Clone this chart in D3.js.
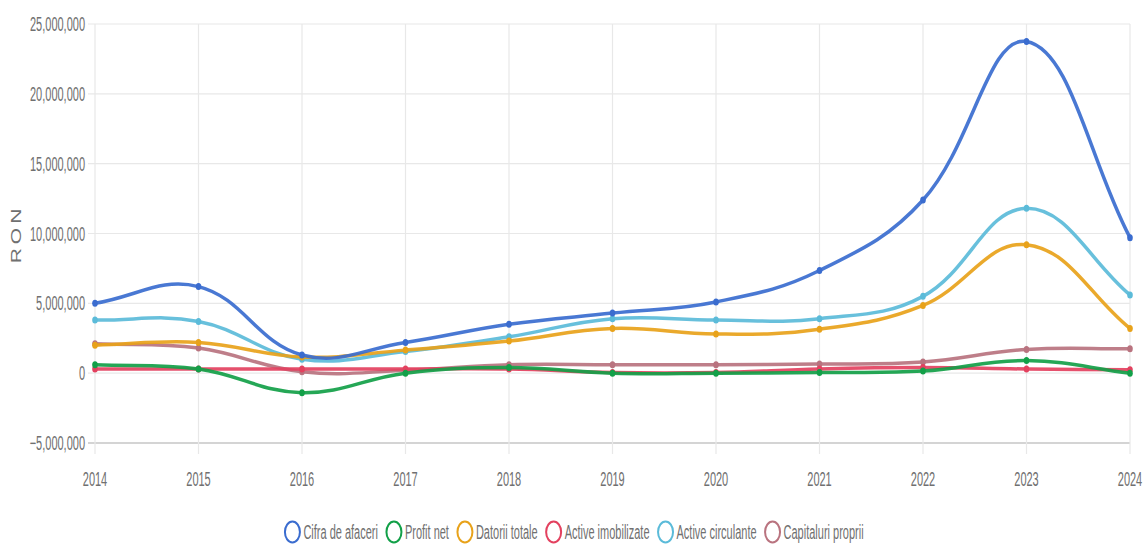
<!DOCTYPE html>
<html>
<head>
<meta charset="utf-8">
<script src="https://cdn.jsdelivr.net/npm/d3@7"></script>
<style>
  body { margin: 0; background: #fff; }
  text { font-family: "Liberation Sans", Arial, sans-serif; fill: #707070; }
</style>
</head>
<body>
<svg id="chart" width="1143" height="549"></svg>
<script>
const years = [2014, 2015, 2016, 2017, 2018, 2019, 2020, 2021, 2022, 2023, 2024];
const yTicks = [-5000000, 0, 5000000, 10000000, 15000000, 20000000, 25000000];

// values in RON
const cifraAfaceri = [5000000, 6200000, 1300000, 2200000, 3500000, 4300000, 5100000, 7350000, 12400000, 23750000, 9700000];
const profitNet = [600000, 300000, -1400000, 0, 400000, 0, 0, 50000, 150000, 900000, 0];
const datoriiTotale = [2000000, 2200000, 1150000, 1650000, 2300000, 3200000, 2800000, 3150000, 4850000, 9200000, 3200000];
const activeImobilizate = [300000, 300000, 300000, 300000, 300000, 50000, 50000, 300000, 400000, 300000, 250000];
const activeCirculante = [3800000, 3700000, 1000000, 1550000, 2600000, 3900000, 3800000, 3900000, 5500000, 11800000, 5600000];
const capitaluriProprii = [2100000, 1800000, 100000, 200000, 600000, 600000, 600000, 650000, 800000, 1700000, 1750000];

const seriesNames = ['Cifra de afaceri', 'Profit net', 'Datorii totale', 'Active imobilizate', 'Active circulante', 'Capitaluri proprii'];
const seriesValues = [cifraAfaceri, profitNet, datoriiTotale, activeImobilizate, activeCirculante, capitaluriProprii];
const colors = ['#3a6ccf', '#12a048', '#e8a21a', '#e3415f', '#5bbbd9', '#b9737f'];

const svg = d3.select('#chart');
const plotLeft = 95, plotRight = 1130, plotTop = 24, plotBottom = 443;
const squeeze = 0.55; // the source picture is squashed sideways
const fontPx = 20;

const x = d3.scaleLinear().domain([2014, 2024]).range([plotLeft, plotRight]);
const y = d3.scaleLinear().domain([-5000000, 25000000]).range([plotBottom, plotTop]);
const fmt = d3.format(',');

// grid
const grid = svg.append('g');
grid.selectAll('line.h').data(yTicks).enter().append('line')
  .attr('x1', plotLeft - 7).attr('x2', plotRight)
  .attr('y1', d => y(d)).attr('y2', d => y(d))
  .attr('stroke', d => d === -5000000 ? '#d4d4d4' : '#e8e8e8')
  .attr('stroke-width', d => d === -5000000 ? 2 : 1.2);
grid.selectAll('line.v').data(years).enter().append('line')
  .attr('x1', d => x(d)).attr('x2', d => x(d))
  .attr('y1', plotTop).attr('y2', plotBottom + 11)
  .attr('stroke', '#e8e8e8').attr('stroke-width', 1.2);

// axis labels
svg.append('g').selectAll('text').data(yTicks).enter().append('text')
  .attr('transform', d => `translate(${plotLeft - 10},${y(d)}) scale(${squeeze},1)`)
  .attr('dy', '0.35em')
  .attr('text-anchor', 'end').style('font-size', fontPx + 'px')
  .text(d => fmt(d));
svg.append('g').selectAll('text').data(years).enter().append('text')
  .attr('transform', d => `translate(${x(d)},479) scale(${squeeze},1)`)
  .attr('dy', '0.35em')
  .attr('text-anchor', 'middle').style('font-size', fontPx + 'px')
  .text(d => d);
svg.append('text')
  .attr('transform', `translate(22,234) scale(0.68,1) rotate(-90)`)
  .attr('text-anchor', 'middle').attr('dy', '-0.1em')
  .style('font-size', '21px').style('letter-spacing', '4px')
  .text('RON');

// Chart.js style spline (tension 0.4, capped to chart area)
function splinePath(pts, t) {
  const cap = (px, py) => [Math.max(plotLeft, Math.min(plotRight, px)), Math.max(plotTop, Math.min(plotBottom, py))];
  const cps = pts.map((cur, i) => {
    const prev = pts[i - 1] || cur, next = pts[i + 1] || cur;
    const d01 = Math.hypot(cur[0] - prev[0], cur[1] - prev[1]);
    const d12 = Math.hypot(next[0] - cur[0], next[1] - cur[1]);
    let s01 = d01 / (d01 + d12), s12 = d12 / (d01 + d12);
    if (isNaN(s01)) s01 = 0;
    if (isNaN(s12)) s12 = 0;
    const fa = t * s01, fb = t * s12;
    return {
      p: cap(cur[0] - fa * (next[0] - prev[0]), cur[1] - fa * (next[1] - prev[1])),
      n: cap(cur[0] + fb * (next[0] - prev[0]), cur[1] + fb * (next[1] - prev[1]))
    };
  });
  const path = d3.path();
  path.moveTo(pts[0][0], pts[0][1]);
  for (let i = 1; i < pts.length; i++) {
    path.bezierCurveTo(cps[i - 1].n[0], cps[i - 1].n[1], cps[i].p[0], cps[i].p[1], pts[i][0], pts[i][1]);
  }
  return path.toString();
}

// first dataset on top, so draw in reverse
const lines = svg.append('g');
for (let s = seriesValues.length - 1; s >= 0; s--) {
  const pts = seriesValues[s].map((v, i) => [x(years[i]), y(v)]);
  const g = lines.append('g');
  g.append('path')
    .attr('d', splinePath(pts, 0.4))
    .attr('fill', 'none')
    .attr('stroke', colors[s])
    .attr('stroke-width', 3.5)
    .attr('stroke-opacity', 0.92);
  g.selectAll('ellipse').data(pts).enter().append('ellipse')
    .attr('cx', d => d[0]).attr('cy', d => d[1]).attr('rx', 2.8).attr('ry', 3.5)
    .attr('fill', colors[s]);
}

// legend
const legend = svg.append('g');
let cursor = 0;
seriesNames.forEach((name, i) => {
  const it = legend.append('g').attr('transform', `translate(${cursor},532)`);
  it.append('ellipse')
    .attr('cx', 0).attr('cy', 0).attr('rx', 7.5).attr('ry', 10.5)
    .attr('fill', 'none').attr('stroke', colors[i]).attr('stroke-width', 2);
  const txt = it.append('text')
    .attr('transform', `translate(11,0) scale(${squeeze},1)`)
    .attr('dy', '0.35em')
    .style('font-size', fontPx + 'px').text(name);
  const w = txt.node().getComputedTextLength() * squeeze;
  cursor += 11 + w + 16;
});
const total = cursor - 16 + 8;
const startX = 574 - total / 2 + 8;
legend.attr('transform', `translate(${startX},0)`);
</script>
</body>
</html>
